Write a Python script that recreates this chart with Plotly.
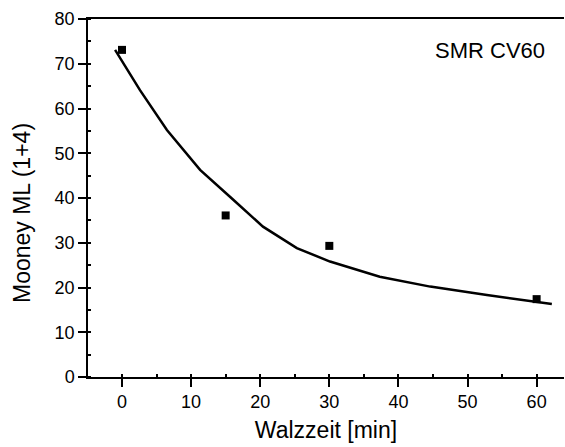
import plotly.graph_objects as go

walzzeit = [0, 15, 30, 60]
mooney = [73.1, 36.1, 29.3, 17.4]

fit_x = [-1.0, 2.6, 6.5, 11.3, 16.1, 20.4, 25.3, 30.1, 37.3, 44.6, 52.8, 59.5, 62.2]
fit_y = [73.1, 64.1, 55.2, 46.3, 39.6, 33.6, 28.8, 25.8, 22.4, 20.2, 18.3, 16.8, 16.3]

x_ticks = [0, 10, 20, 30, 40, 50, 60]
y_ticks = [0, 10, 20, 30, 40, 50, 60, 70, 80]

font = "Liberation Sans, Arial, sans-serif"

fig = go.Figure()
fig.add_trace(go.Scatter(x=fit_x, y=fit_y, mode="lines",
                         line=dict(color="black", width=2.5), showlegend=False))
fig.add_trace(go.Scatter(x=walzzeit, y=mooney, mode="markers",
                         marker=dict(symbol="square", size=8, color="black"),
                         showlegend=False))

fig.update_layout(
    width=565, height=447,
    margin=dict(l=88, r=1, t=19, b=70),
    paper_bgcolor="white", plot_bgcolor="white",
    font=dict(family=font, color="black"),
    xaxis=dict(
        range=[-4.92, 63.96], tickvals=x_ticks, ticks="outside", ticklen=8,
        tickwidth=1.5, tickcolor="black", showline=True, linecolor="black",
        linewidth=1.5, mirror=True, showgrid=False, zeroline=False,
        tickfont=dict(size=18),
        title=dict(text="Walzzeit [min]", font=dict(size=23), standoff=11),
        minor=dict(dtick=5, tick0=5, ticks="inside", ticklen=3, tickcolor="black", tickwidth=1.5),
    ),
    yaxis=dict(
        range=[0, 80], tickvals=y_ticks, ticks="outside", ticklen=8,
        tickwidth=1.5, tickcolor="black", showline=True, linecolor="black",
        linewidth=1.5, showgrid=False, zeroline=False,
        tickfont=dict(size=18),
        minor=dict(dtick=5, tick0=5, ticks="inside", ticklen=3, tickcolor="black", tickwidth=1.5),
    ),
    annotations=[
        dict(text="SMR CV60", xref="paper", yref="paper",
             x=(547 - 88) / 476, y=1 - (50.5 - 19) / 358,
             xanchor="right", yanchor="middle", showarrow=False,
             font=dict(size=22)),
        dict(text="Mooney ML (1+4)", xref="paper", yref="paper",
             x=(22 - 88) / 476, y=1 - (213 - 19) / 358, textangle=-90,
             xanchor="center", yanchor="middle", showarrow=False,
             font=dict(size=23)),
    ],
)

fig.write_html("out.html")
